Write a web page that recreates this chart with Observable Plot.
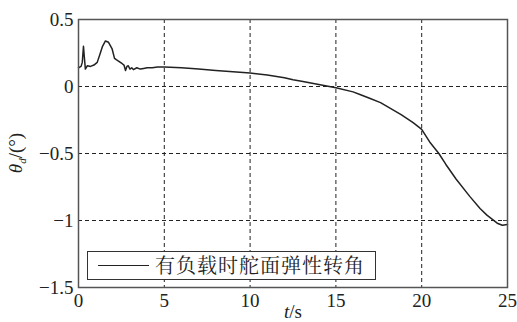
<!DOCTYPE html>
<html>
<head>
<meta charset="utf-8">
<script src="https://cdn.jsdelivr.net/npm/d3@7"></script>
<script src="https://cdn.jsdelivr.net/npm/@observablehq/plot@0.6"></script>
<style>
  html, body { margin: 0; padding: 0; background: #fff; }
  #wrap { position: relative; width: 517px; height: 322px; }
  #wrap svg text, #wrap svg tspan { font-family: "Liberation Serif", serif; }
  #legend { position: absolute; left: 87px; top: 251px; width: 289px; height: 29px;
    border: 1.2px solid #333; background: #fff; box-sizing: border-box; }
  #legend .ln { position: absolute; left: 10px; top: 13px; width: 51px; height: 0; border-top: 1.6px solid #222; }
  #legend .tx { position: absolute; left: 67px; top: 0px; font-family: "Noto Serif CJK SC", serif;
    font-size: 20px; line-height: 26px; letter-spacing: 1px; color: #222; white-space: nowrap; }
</style>
</head>
<body>
<div id="wrap"></div>
<script>
const seriesName = "有负载时舵面弹性转角";
const xTicks = [0, 5, 10, 15, 20, 25];
const yTicks = [-1.5, -1, -0.5, 0, 0.5];
const xGrid = [5, 10, 15, 20];
const yGrid = [-1, -0.5, 0];
const tValues = [0, 0.15, 0.22, 0.29, 0.34, 0.4, 0.52, 0.7, 0.9, 1.09, 1.25, 1.4, 1.57, 1.75, 1.96, 2.1, 2.2, 2.33, 2.55, 2.65, 2.74, 2.82, 2.9, 3.0, 3.1, 3.2, 3.4, 3.6, 3.8, 4.0, 4.3, 4.6, 5, 6, 7, 7.5, 8, 9, 10, 11, 12, 12.5, 13, 14, 15, 16, 16.4, 17, 17.6, 18, 18.8, 19.5, 20, 20.5, 21, 21.4, 22, 22.8, 23.4, 23.8, 24.4, 24.7, 25];
const thetaValues = [0.14, 0.15, 0.18, 0.30, 0.22, 0.13, 0.155, 0.15, 0.16, 0.18, 0.24, 0.30, 0.34, 0.33, 0.28, 0.21, 0.20, 0.19, 0.17, 0.16, 0.12, 0.15, 0.155, 0.13, 0.14, 0.126, 0.14, 0.13, 0.135, 0.14, 0.14, 0.145, 0.145, 0.14, 0.13, 0.125, 0.12, 0.11, 0.10, 0.085, 0.065, 0.05, 0.04, 0.015, -0.01, -0.04, -0.06, -0.09, -0.12, -0.15, -0.21, -0.27, -0.32, -0.42, -0.50, -0.58, -0.69, -0.82, -0.91, -0.96, -1.02, -1.035, -1.03];

const data = tValues.map((t, i) => ({t, v: thetaValues[i]}));
const fmt = d => (d < 0 ? "\u2212" + (-d) : String(d));
const blank = () => "";
const SERIF = "Liberation Serif";

const chart = Plot.plot({
  width: 517,
  height: 322,
  marginLeft: 78,
  marginRight: 10,
  marginTop: 19,
  marginBottom: 35,
  style: {fontFamily: SERIF, fontSize: "19px", color: "#222", background: "#fff"},
  x: {domain: [0, 25], label: null},
  y: {domain: [-1.5, 0.5], label: null},
  marks: [
    Plot.gridX(xGrid, {stroke: "#222", strokeOpacity: 1, strokeDasharray: "4,3", strokeWidth: 1}),
    Plot.gridY(yGrid, {stroke: "#222", strokeOpacity: 1, strokeDasharray: "4,3", strokeWidth: 1}),
    Plot.axisX(xTicks, {tickSize: 0, tickPadding: 6, tickFormat: fmt}),
    Plot.axisY(yTicks, {tickSize: 0, tickPadding: 5, tickFormat: fmt}),
    Plot.axisY(yTicks, {anchor: "right", tickSize: 5, dx: -5, tickFormat: blank, stroke: "#444"}),
    Plot.line(data, {x: "t", y: "v", stroke: "#222", strokeWidth: 1.5}),
    Plot.frame({stroke: "#555", strokeWidth: 1.5})
  ]
});
const wrap = document.getElementById("wrap");
wrap.appendChild(chart);

const svg = d3.select(chart);
const yl = svg.append("text")
  .attr("transform", "translate(22,153) rotate(-90)")
  .attr("text-anchor", "middle")
  .attr("font-size", 19)
  .attr("fill", "#222");
yl.append("tspan").attr("font-style", "italic").text("θ");
yl.append("tspan").attr("font-size", 11).attr("dy", 4).attr("font-style", "italic").text("d");
yl.append("tspan").attr("dy", -4).text("/(°)");

const xl = svg.append("text")
  .attr("x", 293).attr("y", 318)
  .attr("text-anchor", "middle")
  .attr("font-size", 19)
  .attr("fill", "#222");
xl.append("tspan").attr("font-style", "italic").text("t");
xl.append("tspan").text("/s");

const lg = document.createElement("div");
lg.id = "legend";
lg.innerHTML = '<div class="ln"></div><div class="tx"></div>';
lg.querySelector(".tx").textContent = seriesName;
wrap.appendChild(lg);
</script>
</body>
</html>
